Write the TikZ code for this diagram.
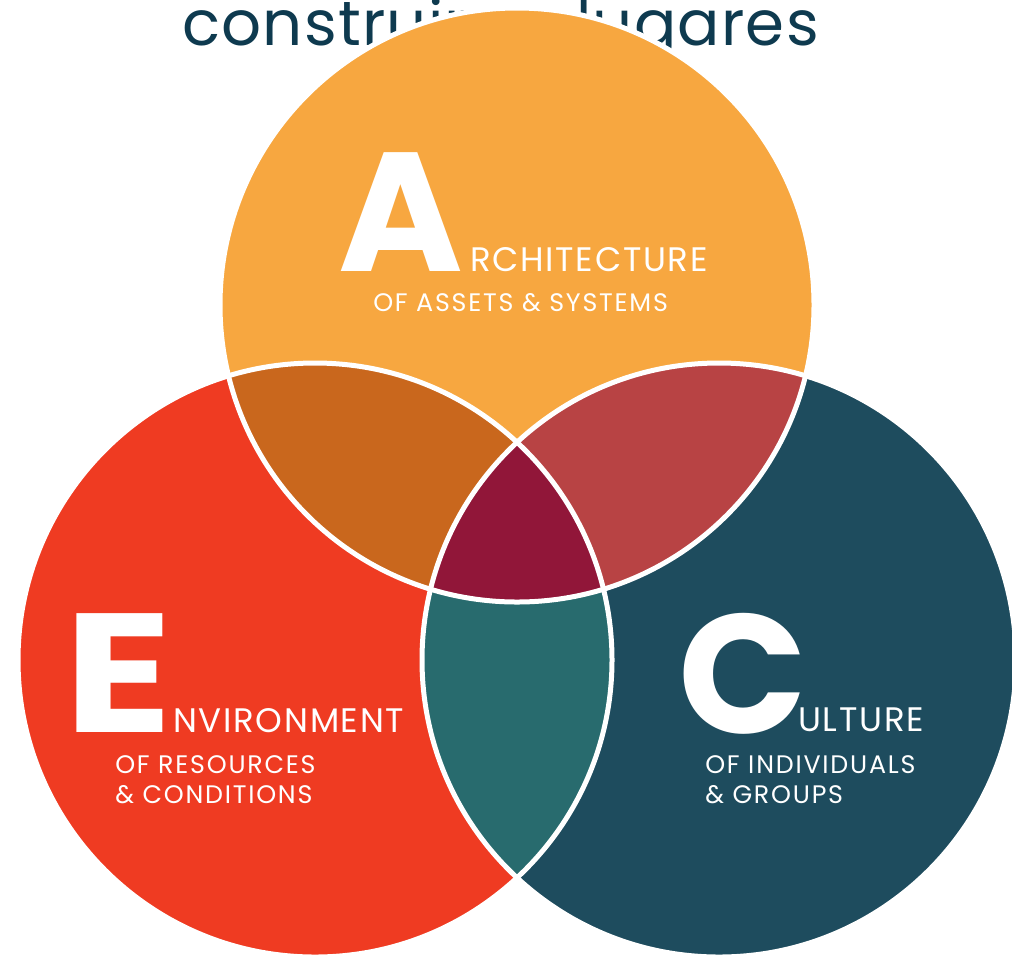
\documentclass[tikz,border=0pt]{standalone}
\usepackage{graphicx}
\usepackage{fontspec}
\setmainfont{Poppins}
\newfontfamily\wordfont{Poppins}[LetterSpace=5]
\newfontfamily\subfont{Poppins}[LetterSpace=7]
\newfontfamily\titlefont{Poppins}[LetterSpace=2]
\definecolor{cA}{HTML}{F7A740}
\definecolor{cE}{HTML}{EF3B22}
\definecolor{cC}{HTML}{1E4C5E}
\definecolor{cAE}{HTML}{C9671D}
\definecolor{cAC}{HTML}{B84344}
\definecolor{cEC}{HTML}{286B6E}
\definecolor{cAEC}{HTML}{911639}
\definecolor{cTitle}{HTML}{0E3A4F}
\tikzset{
  ttl/.style={text=cTitle, inner sep=0pt, font=\titlefont\fontsize{47}{47}\selectfont},
  bigletter/.style={text=white, inner sep=0pt, anchor=base west, font=\fontsize{127}{127}\selectfont\bfseries},
  wordrest/.style={text=white, inner sep=0pt, anchor=base west, font=\wordfont\fontsize{25.5}{25.5}\selectfont},
  subline/.style={text=white, inner sep=0pt, anchor=base west, font=\subfont\fontsize{19}{19}\selectfont},
  outline/.style={draw=white, line width=3.75pt}
}
\begin{document}
\begin{tikzpicture}[x=0.75pt,y=-0.75pt]
\useasboundingbox (0,0) rectangle (1012,958);
\clip (0,0) rectangle (1012,958);
\def\rad{222.75pt}
\coordinate (Ac) at (517,305);
\coordinate (Ec) at (315,660);
\coordinate (Cc) at (719,660);
\node[ttl, anchor=base west] (t1) at (182,45) {construir};
\node[ttl, anchor=base east] (t2) at (819,45) {lugares};
\fill[cA] (Ac) circle[radius=\rad];
\fill[cE] (Ec) circle[radius=\rad];
\fill[cC] (Cc) circle[radius=\rad];
\begin{scope}
  \clip (Ac) circle[radius=\rad];
  \fill[cAE] (Ec) circle[radius=\rad];
  \fill[cAC] (Cc) circle[radius=\rad];
\end{scope}
\begin{scope}
  \clip (Ec) circle[radius=\rad];
  \fill[cEC] (Cc) circle[radius=\rad];
\end{scope}
\begin{scope}
  \clip (Ac) circle[radius=\rad];
  \clip (Ec) circle[radius=\rad];
  \fill[cAEC] (Cc) circle[radius=\rad];
\end{scope}
\draw[outline] (Ac) circle[radius=\rad];
\draw[outline] (Ec) circle[radius=\rad];
\draw[outline] (Cc) circle[radius=\rad];
% Architecture
\node[bigletter] (la) at (338,271) {A};
\node[wordrest] (wa) at (470,271) {RCHITECTURE};
\node[subline] (sa) at (373,311) {OF ASSETS \& SYSTEMS};
% Environment
\node[bigletter] (le) at (64,732) {\scalebox{1.18}[1]{E}};
\node[wordrest] (we) at (173,732) {NVIRONMENT};
\node[subline] (se1) at (115,773) {OF RESOURCES};
\node[subline] (se2) at (115,803) {\& CONDITIONS};
% Culture
\node[bigletter] (lc) at (678,733) {C};
\node[wordrest] (wc) at (798,731) {ULTURE};
\node[subline] (sc1) at (705,773) {OF INDIVIDUALS};
\node[subline] (sc2) at (705,803) {\& GROUPS};
\end{tikzpicture}
\end{document}
